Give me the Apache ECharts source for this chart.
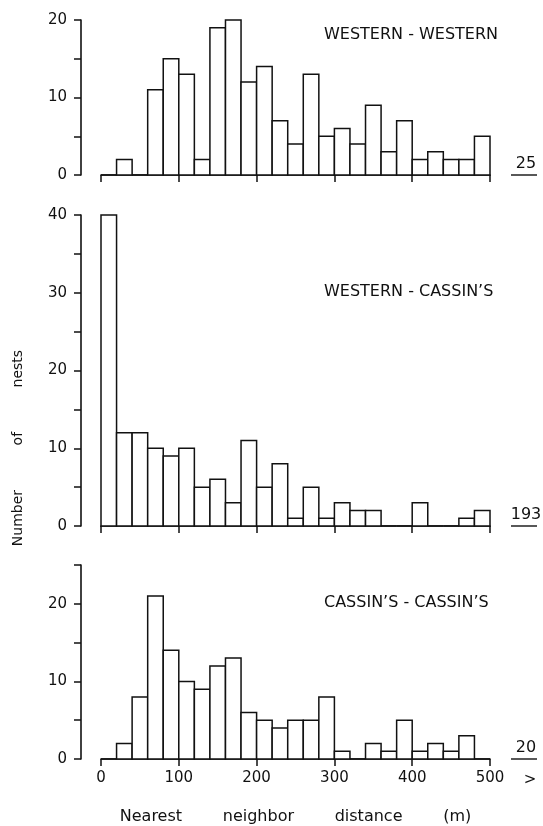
<!DOCTYPE html>
<html lang="en">
  <head>
    <meta charset="UTF-8" />
    <title>Nearest neighbor distance</title>
    <style>
      * {
        padding: 0;
        margin: 0;
      }
      body {
        background: #fff;
      }
    </style>
    <script src="https://cdn.jsdelivr.net/npm/echarts@6/dist/echarts.min.js"></script>
  </head>
  <body>
    <div id="main" style="width: 543px; height: 826px;"></div>
    <script type="text/javascript">
      // 20 m bins, 0-500 m
      var binStarts = [0, 20, 40, 60, 80, 100, 120, 140, 160, 180, 200, 220, 240,
        260, 280, 300, 320, 340, 360, 380, 400, 420, 440, 460, 480];
      var binWidth = 20;

      var westernWestern = [0, 2, 0, 11, 15, 13, 2, 19, 20, 12, 14, 7, 4, 13, 5, 6, 4, 9, 3, 7, 2, 3, 2, 2, 5];
      var westernCassins = [40, 12, 12, 10, 9, 10, 5, 6, 3, 11, 5, 8, 1, 5, 1, 3, 2, 2, 0, 0, 3, 0, 0, 1, 2];
      var cassinsCassins = [0, 2, 8, 21, 14, 10, 9, 12, 13, 6, 5, 4, 5, 5, 8, 1, 0, 2, 1, 5, 1, 2, 1, 3, 0];

      // nests beyond 500 m
      var overflow = [25, 193, 20];
      var panelNames = ['WESTERN - WESTERN', 'WESTERN - CASSIN’S', 'CASSIN’S - CASSIN’S'];
      var yMax = [20, 40, 25];
      var xTickLabels = [0, 100, 200, 300, 400, 500];

      var panels = [westernWestern, westernCassins, cassinsCassins];
      var grids = [
        {top: 20, height: 155},
        {top: 215, height: 311},
        {top: 565, height: 194}
      ];
      var ink = '#111';
      var font = 'DejaVu Sans';

      var myChart = echarts.init(document.getElementById('main'));

      function renderBin(params, api) {
        var p0 = api.coord([api.value(0), api.value(1)]);
        var p1 = api.coord([api.value(0) + binWidth, 0]);
        return {
          type: 'rect',
          shape: {x: p0[0], y: p0[1], width: p1[0] - p0[0], height: p1[1] - p0[1]},
          style: {fill: '#fff', stroke: ink, lineWidth: 1.5}
        };
      }

      var option = {
        backgroundColor: '#fff',
        animation: false,
        title: panelNames.map(function (name, i) {
          return {
            text: name,
            left: 319,
            top: [22, 279, 590][i],
            textStyle: {fontFamily: font, fontSize: 16, fontWeight: 'normal', color: ink}
          };
        }),
        grid: grids.map(function (g) {
          return {left: 101, right: 53, top: g.top, height: g.height};
        }),
        xAxis: grids.map(function (g, i) {
          return {
            type: 'value',
            gridIndex: i,
            position: 'bottom',
            min: 0,
            max: 500,
            interval: 100,
            splitLine: {show: false},
            axisLine: {onZero: false, lineStyle: {color: ink, width: 1.6}},
            axisTick: {length: 7, lineStyle: {color: ink, width: 1.5}},
            axisLabel: {
              show: i === 2,
              margin: 12,
              fontFamily: font,
              fontSize: 15,
              color: ink,
              formatter: function (v) {
                return xTickLabels.indexOf(v) >= 0 ? String(v) : '';
              }
            },
            name: i === 2 ? 'Nearest        neighbor        distance        (m)' : '',
            nameLocation: 'middle',
            nameGap: 50,
            nameTextStyle: {fontFamily: font, fontSize: 16, color: ink}
          };
        }),
        yAxis: grids.map(function (g, i) {
          return {
            type: 'value',
            gridIndex: i,
            position: 'left',
            min: 0,
            max: yMax[i],
            interval: 5,
            offset: 20,
            splitLine: {show: false},
            axisLine: {show: true, onZero: false, lineStyle: {color: ink, width: 1.6}},
            axisTick: {length: 7, lineStyle: {color: ink, width: 1.5}},
            axisLabel: {
              margin: 14,
              fontFamily: font,
              fontSize: 15,
              color: ink,
              formatter: function (v) {
                return v % 10 === 0 ? String(v) : '';
              }
            }
          };
        }),
        series: panels.map(function (counts, i) {
          return {
            type: 'custom',
            xAxisIndex: i,
            yAxisIndex: i,
            renderItem: renderBin,
            data: binStarts.map(function (x, k) {
              return [x, counts[k]];
            })
          };
        })
      };

      myChart.setOption(option, true);

      // overflow counts, ">" mark and the y axis title
      var graphics = [];
      overflow.forEach(function (n, i) {
        var p = myChart.convertToPixel({gridIndex: i}, [500, 0]);
        graphics.push({
          type: 'text',
          x: p[0] + 36,
          y: p[1] - 3,
          style: {
            text: String(n),
            fontFamily: font,
            fontSize: 16,
            fill: ink,
            align: 'center',
            verticalAlign: 'bottom'
          }
        });
        graphics.push({
          type: 'line',
          shape: {x1: p[0] + 21, y1: p[1], x2: p[0] + 47, y2: p[1]},
          style: {stroke: ink, lineWidth: 1.4}
        });
      });
      var pEnd = myChart.convertToPixel({gridIndex: 2}, [500, 0]);
      graphics.push({
        type: 'text',
        x: pEnd[0] + 40,
        y: pEnd[1] + 21,
        style: {text: '>', fontFamily: font, fontSize: 15, fill: ink, align: 'center', verticalAlign: 'middle'}
      });
      graphics.push({
        type: 'text',
        x: 18,
        y: 448,
        rotation: Math.PI / 2,
        style: {
          text: 'Number          of          nests',
          fontFamily: font,
          fontSize: 14,
          fill: ink,
          align: 'center',
          verticalAlign: 'middle'
        }
      });
      myChart.setOption({graphic: graphics});
    </script>
  </body>
</html>
